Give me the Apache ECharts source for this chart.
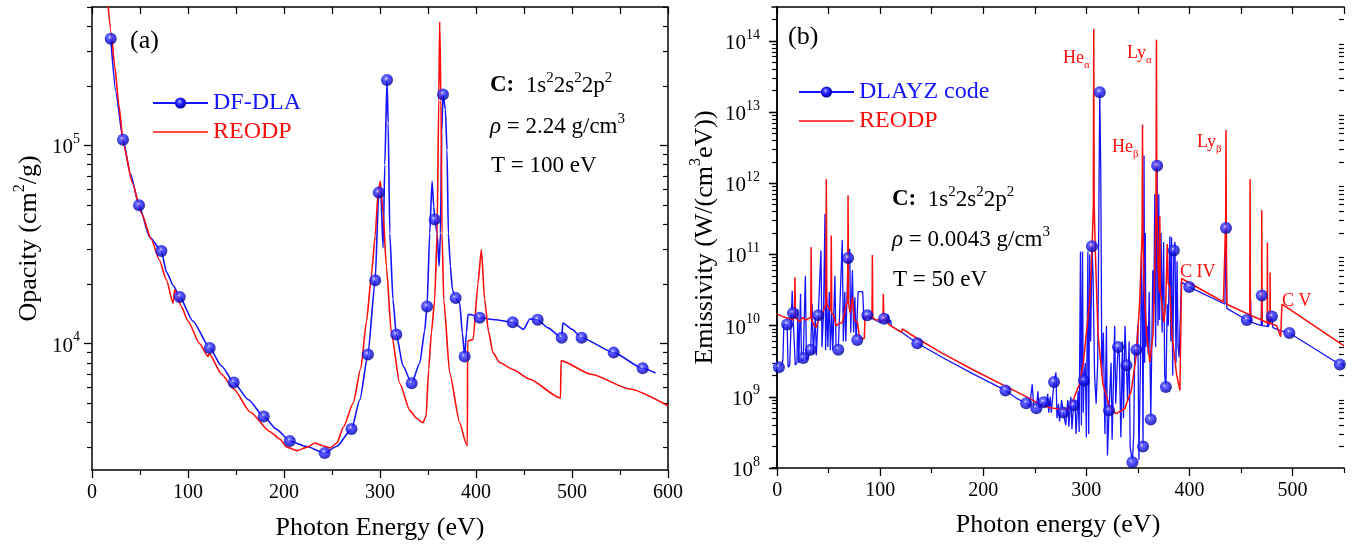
<!DOCTYPE html>
<html>
<head>
<meta charset="utf-8">
<script src="https://cdn.jsdelivr.net/npm/echarts@6/dist/echarts.min.js"></script>
<style>
  html, body { margin: 0; padding: 0; background: #fff; }
  #chart { width: 1352px; height: 548px; }
</style>
</head>
<body>
<div id="chart"></div>
<script>
// ---------- (a) opacity of carbon, rho = 2.24 g/cm3, T = 100 eV ----------
// DF-DLA curve samples (photon energy eV, opacity cm^2/g)
const dlaCurve = [
  [25, 1.85e5], [40, 7.2e4], [60, 3.45e4], [77.5, 2.3e4], [85, 1.95e4], [105, 1.3e4],
  [135, 7.7e3], [163, 5.2e3], [192, 3.7e3], [223, 3.03e3], [255, 3.03e3], [279, 5.2e3],
  [300.7, 5.9e4], [303.2, 3.04e4], [305, 8.0e4], [308.5, 1.3e5], [310.2, 3.6e4], [313.5, 1.67e4],
  [324, 7.7e3], [341.5, 8.0e3], [346.5, 1.16e4], [351.8, 3.6e4], [354.2, 6.6e4], [356, 4.9e4],
  [359.5, 3.6e4], [361.5, 2.46e4], [363, 3.6e4], [364.3, 1.16e5], [368.1, 1.52e5], [369.8, 9.5e4],
  [371.2, 3.6e4], [373.3, 2.46e4], [375.4, 1.87e4], [383, 1.6e4], [385.8, 1.13e4], [390, 1.13e4],
  [391.7, 1.4e4], [395, 1.4e4], [420, 1.32e4], [449.6, 1.18e4], [456, 1.33e4], [475, 1.2e4],
  [490.5, 1.27e4], [500, 1.18e4], [587, 7.1e3]
];
// DF-DLA plotted symbols
const dlaMarks = [
  [19.5, 3.46e5], [32.3, 1.07e5], [49, 4.99e4], [72.3, 2.93e4], [91.4, 1.72e4], [122.6, 9.5e3],
  [147.6, 6.36e3], [178.9, 4.28e3], [206, 3.22e3], [242.4, 2.8e3], [270.3, 3.7e3], [287.4, 8.8e3],
  [295, 2.09e4], [298.7, 5.78e4], [307.3, 2.14e5], [317, 1.11e4], [333, 6.3e3], [349, 1.54e4],
  [357, 4.23e4], [365.6, 1.81e5], [378.8, 1.7e4], [388.2, 8.6e3], [403.8, 1.35e4], [438.2, 1.28e4],
  [464.2, 1.32e4], [489.3, 1.07e4], [510, 1.07e4], [543.4, 9.0e3], [573.6, 7.5e3]
];
// REODP opacity
const reodpOpacity = [
  [16, 5.6e5], [20, 3.7e5], [23.6, 2.53e5], [28, 1.6e5], [33, 1.0e5], [42, 6.5e4], [51.4, 4.56e4],
  [61.9, 3.35e4], [70, 2.65e4], [77.5, 2.1e4], [84.4, 1.6e4], [86.2, 1.87e4], [93, 1.54e4],
  [100, 1.3e4], [112, 1.0e4], [121, 8.6e3], [122, 8.9e3], [135, 7.0e3], [147.6, 5.9e3],
  [165, 4.5e3], [185, 3.6e3], [195.5, 3.3e3], [203, 3.0e3], [214, 2.88e3], [224, 3.0e3],
  [232, 3.15e3], [240, 3.05e3], [248, 2.97e3], [255, 3.15e3], [262, 3.8e3], [272, 5.0e3],
  [280, 7.5e3], [286, 1.3e4], [291, 2.2e4], [295, 3.5e4], [298, 5.8e4], [300.4, 6.6e4],
  [303.2, 4.57e4], [306.6, 2.46e4], [311.8, 1.13e4], [320.5, 6.3e3], [331, 4.6e3], [338, 4.2e3],
  [344.6, 3.98e3], [348, 4.3e3], [350.7, 7.4e3], [353.5, 1.13e4], [357, 1.67e4], [359.5, 3.6e4],
  [361.2, 1.7e5], [362.2, 4.2e5], [363.5, 1.7e5], [364.6, 3.6e4], [366.4, 1.67e4], [372.6, 7.1e3],
  [383, 3.98e3], [390, 3.1e3], [391, 3.05e3], [391.3, 1.03e4], [397, 1.05e4], [402, 2.0e4],
  [405.6, 2.98e4], [409, 1.67e4], [413, 1.15e4], [417.7, 8.97e3], [425, 8.0e3], [438.5, 7.4e3],
  [456, 6.6e3], [487, 5.33e3], [488, 5.3e3], [488.6, 8.2e3], [520, 7.0e3], [560, 5.9e3], [600, 4.85e3]
];

// ---------- (b) emissivity of carbon, rho = 0.0043 g/cm3, T = 50 eV ----------
// DLAYZ spectrum samples (photon energy eV, W/(cm^3 eV))
const dlayzCurve = [
  [4.9, 2.9e9], [5.6, 3.3e9], [6.5, 1.05e10], [10.6, 2.6e9], [12.2, 2.8e9], [14.6, 3.1e10],
  [17.6, 2.8e9], [19.2, 3.0e9], [20.1, 1.7e10], [21.0, 3.0e9], [22.7, 2.8e10], [23.6, 3.2e9],
  [27.4, 5.0e10], [28.4, 3.3e9], [30.2, 3.6e9], [34.0, 2.0e10], [35.0, 4.0e9], [37.0, 1.3e10],
  [38.0, 3.8e9], [42.5, 1.14e11], [43.5, 5.0e9], [45.0, 1.5e10], [46.4, 3.7e11], [47.0, 4.5e9],
  [48.2, 2.5e10], [49.2, 5.0e9], [50.6, 3.0e10], [51.6, 4.5e9], [53.0, 1.5e10], [54.0, 4.5e9],
  [56.0, 5.0e10], [57.2, 4.5e9], [63.2, 1.6e11], [64.2, 6.0e9], [65.6, 3.0e10], [66.6, 6.0e9],
  [70.4, 1.2e11], [71.4, 8.0e9], [73.0, 6.0e10], [74.2, 8.0e9], [75.4, 2.5e10], [76.6, 6.0e9],
  [78.6, 3.0e10], [83.0, 3.0e10], [84.2, 1.2e10], [90, 1.3e10], [95, 1.2e10], [100, 1.1e10],
  [106, 1.15e10], [107.5, 1.4e10], [108.5, 1.05e10], [110, 1.2e10], [111, 9.8e9], [120, 8.2e9],
  [160, 3.6e9], [190, 2.1e9], [232, 9.6e8], [245, 7.3e8], [247.5, 1.5e9], [249, 7.0e8],
  [253, 1.2e9], [254, 7.0e8], [261, 7.5e8], [262.5, 1.1e9], [263.5, 6.0e8], [265, 1.0e9],
  [266, 6.0e8], [270.5, 2.2e9], [271.5, 5.0e8], [273, 8.0e8], [274, 4.5e8], [276, 9.0e8],
  [280, 4.0e8], [282, 9.0e8], [283, 3.8e8], [285, 1.0e9], [286, 3.5e8], [289, 9.0e8],
  [290, 3.0e8], [292, 1.2e9], [293, 3.2e8], [294.3, 1.1e11], [295.2, 4.0e8], [296.3, 1.1e11],
  [297, 6.0e8], [299, 3.0e9], [300, 2.7e8], [301.5, 1.1e11], [302.3, 3.0e8], [303.3, 1.0e11],
  [304.2, 6.0e9], [306.5, 5.0e10], [308, 2.0e9], [309.5, 8.0e8], [311, 3.0e9], [312, 2.0e11],
  [314, 1.5e12], [315, 2.0e9], [316.5, 8.0e9], [318, 3.0e8], [319.5, 1.0e10], [320.5, 1.5e8],
  [324, 3.0e9], [325, 2.5e8], [327.5, 1.0e10], [328.5, 8.0e8], [332, 4.0e9], [333.5, 2.7e8],
  [335, 6.0e9], [336, 5.0e8], [337.5, 1.0e10], [340, 9.0e8], [341.5, 6.0e9], [342.5, 2.0e8],
  [346, 3.0e8], [347, 5.0e9], [350, 1.0e10], [351, 1.3e8], [352.5, 3.0e9], [353.5, 1.0e11],
  [354.3, 1.5e10], [356, 2.45e12], [356.6, 3.0e9], [357.2, 2.0e11], [357.8, 5.0e9], [359, 1.0e10],
  [360, 4.0e9], [361, 3.0e10], [363.5, 5.0e9], [364.5, 6.0e10], [365.5, 2.0e10], [366.4, 7.0e11],
  [367.2, 5.0e9], [369.5, 1.0e10], [370.3, 7.0e11], [371, 1.2e10], [372.5, 2.0e11], [373.5, 8.0e9],
  [375, 1.5e11], [376, 2.0e9], [378.5, 2.0e10], [379.5, 1.0e10], [381, 1.8e11], [382, 6.0e9],
  [382.7, 1.75e11], [383.8, 2.0e9], [386, 1.5e11], [387, 3.0e9], [388, 8.0e10], [389, 5.0e9],
  [390, 3.6e9], [391.6, 3.6e9], [392.2, 4.1e10], [434.5, 2.0e10], [435, 1.1e11], [436.3, 1.75e10],
  [459, 1.15e10], [459.4, 2.3e10], [459.8, 1.12e10], [469.6, 1.0e10], [470.8, 1.0e10],
  [475.7, 9.8e9], [476, 1.6e10], [476.4, 9.6e9], [481, 9.4e9], [488, 8.5e9], [550, 2.75e9]
];
// DLAYZ plotted symbols
const dlayzMarks = [
  [1.7, 2.6e9], [9.7, 1.04e10], [15.3, 1.5e10], [25.3, 3.5e9], [32.5, 4.6e9], [39.9, 1.4e10],
  [59.3, 4.6e9], [68.8, 8.9e10], [77.8, 6.3e9], [87.5, 1.4e10], [103.8, 1.25e10], [136, 5.65e9],
  [221.5, 1.23e9], [241.6, 8.1e8], [251.5, 6.9e8], [258.6, 8.4e8], [268.7, 1.62e9], [277.6, 6.0e8],
  [287.6, 7.6e8], [297.7, 1.7e9], [305.5, 1.31e11], [313, 1.9e13], [322, 6.45e8], [330.7, 5.0e9],
  [338.9, 2.78e9], [344.7, 1.2e8], [348.6, 4.6e9], [355, 2.0e8], [362.5, 4.8e8], [368.7, 1.76e12],
  [377.2, 1.37e9], [384.9, 1.14e11], [399.8, 3.5e10], [435.5, 2.35e11], [455.7, 1.2e10],
  [470.2, 2.65e10], [480, 1.34e10], [497, 7.9e9], [546, 2.85e9]
];
// REODP emissivity
const reodpEmissivity = [
  [0, 1.45e10], [5, 1.35e10], [8, 1.3e10], [12, 1.25e10], [15, 1.2e10], [16.8, 1.3e10],
  [17.3, 4.8e10], [17.8, 1.3e10], [20, 1.2e10], [22, 1.15e10], [25, 1.3e10], [28, 1.2e10],
  [30, 1.25e10], [32.6, 1.3e10], [33, 1.27e11], [33.5, 1.2e10], [36, 1.0e10], [38, 9.5e9],
  [40, 1.2e10], [42, 1.3e10], [44, 1.5e10], [47.2, 2.0e10], [47.7, 1.15e12], [48.2, 2.0e10],
  [50, 1.8e10], [52.1, 1.6e10], [52.5, 1.85e11], [53, 1.5e10], [55, 1.4e10], [57, 1.0e10],
  [60, 1.07e10], [63, 1.1e10], [65, 1.4e10], [67, 2.0e10], [68.4, 2.2e10], [68.8, 6.8e11],
  [69.3, 2.0e10], [71, 1.5e10], [73, 2.5e10], [75, 1.2e10], [78, 1.1e10], [80, 6.6e9],
  [84.6, 6.6e9], [85.2, 1.3e10], [88, 1.35e10], [92, 1.3e10], [92.4, 9.8e10], [92.8, 1.3e10],
  [96, 1.2e10], [100, 1.2e10], [102.6, 1.15e10], [103, 2.8e10], [103.5, 1.15e10], [106, 1.3e10],
  [108, 1.05e10], [115, 9.0e9], [120.5, 8.1e9], [121.5, 9.0e9], [136, 6.6e9], [160, 4.1e9],
  [190, 2.4e9], [220, 1.45e9], [245, 9.5e8], [255, 7.8e8], [265, 7.0e8], [275, 6.7e8],
  [282, 6.8e8], [287, 8.9e8], [290.5, 1.2e9], [293.5, 1.53e9], [297, 3.0e9], [300, 7.7e9],
  [303.2, 2.2e10], [305.5, 1.14e11], [306.8, 5.0e11], [307.2, 1.47e14], [307.6, 5.0e11],
  [308.7, 1.1e11], [311.3, 7.7e9], [316, 1.53e9], [322.6, 7.2e8], [329, 5.8e8], [337.2, 6.8e8],
  [343.7, 1.23e9], [348.6, 4.0e9], [351.8, 2.25e10], [354.1, 2.0e11], [354.5, 6.7e12],
  [354.9, 2.0e11], [355.9, 3.9e10], [358.4, 7.7e9], [361.6, 3.1e9], [364.8, 7.7e9],
  [366.4, 6.6e10], [367.6, 4.0e11], [368, 1.04e14], [368.4, 4.0e11], [369.7, 6.6e10],
  [370.8, 3.0e10], [371.3, 3.5e11], [371.8, 3.0e10], [373, 2.25e10], [375.2, 1.12e10],
  [377, 2.0e10], [378.5, 1.4e11], [379.4, 3.9e10], [381, 3.5e10], [383, 7.7e9], [387.5, 2.1e9],
  [390.8, 1.23e9], [391.9, 1.2e9], [392.4, 4.6e10], [433, 2.15e10], [435.2, 3.0e11],
  [435.5, 5.6e12], [435.8, 3.0e11], [436.3, 2.0e10], [458.6, 1.42e10], [458.9, 1.15e12],
  [459.2, 1.4e10], [470, 1.2e10], [470.2, 4.2e11], [470.5, 1.19e10], [475.5, 1.1e10],
  [475.7, 1.47e11], [475.9, 1.1e10], [478.1, 1.08e10], [478.3, 5.6e10], [478.5, 1.07e10],
  [484.8, 1.0e10], [488.5, 7.0e9], [489.6, 6.9e9], [489.8, 2.0e10], [550, 5.2e9]
];

// axis tick values
const energyTicksA = [0, 100, 200, 300, 400, 500, 600];
const energyTicksB = [0, 100, 200, 300, 400, 500];
const energyMinorB = [50, 150, 250, 350, 450, 550];
const energyTopB = [0, 50, 100, 150, 200, 250, 300, 350, 400, 450, 500, 550];
const opacityTicks = [1e4, 1e5];
const emissivityTicks = [1e8, 1e9, 1e10, 1e11, 1e12, 1e13, 1e14];

const FONT = 'Liberation Serif';
const BLUE = '#1414ff';
const RED = '#ff0d0d';
const BLACK = '#000';

// minor log ticks 2..9 x 10^n that fall inside [lo, hi]
function minorLogTicks(lo, hi) {
  const out = [];
  for (let e = Math.floor(Math.log10(lo)); e <= Math.ceil(Math.log10(hi)); e++) {
    for (let m = 2; m <= 9; m++) {
      const v = m * Math.pow(10, e);
      if (v >= lo && v <= hi) out.push(v);
    }
  }
  return out;
}

function byEnergy(curve, marks) {
  return curve.concat(marks).sort((a, b) => a[0] - b[0]);
}

function sphere() {
  return {
    type: 'radial', x: 0.42, y: 0.38, r: 0.62,
    colorStops: [
      { offset: 0, color: '#e8e8ff' },
      { offset: 0.22, color: '#5050ff' },
      { offset: 0.6, color: '#1010ee' },
      { offset: 1, color: '#000088' }
    ]
  };
}

const powRich = {
  b: { fontFamily: FONT, fontSize: 21, lineHeight: 26, verticalAlign: 'bottom', color: BLACK },
  s: { fontFamily: FONT, fontSize: 14, lineHeight: 14, verticalAlign: 'top', color: BLACK }
};
function powLabel(v) {
  return '{b|10}{s|' + Math.round(Math.log10(v)) + '}';
}

const axisLine = { show: true, lineStyle: { color: BLACK, width: 1.5 } };
const noLine = { show: false };

// log y axes: main (labels + long ticks), minor overlay, and mirrored right pair
function logAxes(grid, min, max, ticks, name, nameGap) {
  const minor = minorLogTicks(min, max);
  const base = { type: 'log', logBase: 10, gridIndex: grid, min: min, max: max, splitLine: { show: false } };
  return [
    Object.assign({}, base, {
      position: 'left', axisLine: axisLine,
      axisTick: { customValues: ticks, length: 8, lineStyle: { color: BLACK, width: 1.3 } },
      axisLabel: { customValues: ticks, formatter: powLabel, rich: powRich, margin: 12 },
      name: name, nameLocation: 'middle', nameGap: nameGap, nameRotate: 90,
      nameTextStyle: {
        rich: {
          n: { fontFamily: FONT, fontSize: 26, lineHeight: 30, verticalAlign: 'bottom', color: BLACK },
          s: { fontFamily: FONT, fontSize: 16, lineHeight: 16, verticalAlign: 'top', color: BLACK }
        }
      }
    }),
    Object.assign({}, base, {
      position: 'left', axisLine: noLine, axisLabel: { show: false },
      axisTick: { customValues: minor, length: 5, lineStyle: { color: BLACK, width: 1.2 } }
    }),
    Object.assign({}, base, {
      position: 'right', axisLine: axisLine, axisLabel: { show: false },
      axisTick: { customValues: ticks, inside: true, length: 8, lineStyle: { color: BLACK, width: 1.3 } }
    }),
    Object.assign({}, base, {
      position: 'right', axisLine: noLine, axisLabel: { show: false },
      axisTick: { customValues: minor, inside: true, length: 5, lineStyle: { color: BLACK, width: 1.2 } }
    })
  ];
}

const xName = { fontFamily: FONT, fontSize: 26, color: BLACK };
const xLabel = { fontFamily: FONT, fontSize: 20, color: BLACK, margin: 13 };

const xAxes = [
  // (a) bottom
  { type: 'value', gridIndex: 0, position: 'bottom', min: 0, max: 600, interval: 100,
    axisLine: axisLine, splitLine: { show: false },
    axisTick: { length: 8, lineStyle: { color: BLACK, width: 1.3 } },
    minorTick: { show: true, splitNumber: 2, length: 5, lineStyle: { color: BLACK, width: 1.2 } },
    axisLabel: Object.assign({ customValues: energyTicksA }, xLabel),
    name: 'Photon Energy (eV)', nameLocation: 'middle', nameGap: 45, nameTextStyle: xName },
  // (a) top
  { type: 'value', gridIndex: 0, position: 'top', min: 0, max: 600, interval: 50,
    axisLine: axisLine, splitLine: { show: false }, axisLabel: { show: false },
    axisTick: { inside: true, length: 7, lineStyle: { color: BLACK, width: 1.2 } } },
  // (b) bottom
  { type: 'value', gridIndex: 1, position: 'bottom', min: -5, max: 550,
    axisLine: axisLine, splitLine: { show: false },
    axisTick: { customValues: energyTicksB, length: 8, lineStyle: { color: BLACK, width: 1.3 } },
    axisLabel: Object.assign({ customValues: energyTicksB }, xLabel),
    name: 'Photon energy (eV)', nameLocation: 'middle', nameGap: 44, nameTextStyle: xName },
  // (b) bottom minor ticks
  { type: 'value', gridIndex: 1, position: 'bottom', min: -5, max: 550,
    axisLine: noLine, splitLine: { show: false }, axisLabel: { show: false },
    axisTick: { customValues: energyMinorB, length: 5, lineStyle: { color: BLACK, width: 1.2 } } },
  // (b) top
  { type: 'value', gridIndex: 1, position: 'top', min: -5, max: 550,
    axisLine: axisLine, splitLine: { show: false }, axisLabel: { show: false },
    axisTick: { customValues: energyTopB, inside: true, length: 7, lineStyle: { color: BLACK, width: 1.2 } } }
];

const yAxes = [].concat(
  logAxes(0, 2300, 5e5, opacityTicks, '{n|Opacity (cm}{s|2}{n|/g)}', 50),
  logAxes(1, 1e8, 3e14, emissivityTicks, '{n|Emissivity (W/(cm}{s|3}{n|eV))}', 54)
);

const lineBase = { type: 'line', showSymbol: false, animation: false, silent: true, clip: true };
// opacity curves are smooth; emission spectra keep their sharp lines
const smoothCurve = { smooth: 0.2, smoothMonotone: 'x' };

const series = [
  Object.assign({}, lineBase, smoothCurve, {
    name: 'DF-DLA', xAxisIndex: 0, yAxisIndex: 0, data: byEnergy(dlaCurve, dlaMarks),
    symbol: 'circle', symbolSize: 12, itemStyle: { color: sphere() },
    lineStyle: { color: BLUE, width: 1.6 }, z: 2
  }),
  Object.assign({}, lineBase, smoothCurve, {
    name: 'REODP', xAxisIndex: 0, yAxisIndex: 0, data: reodpOpacity,
    symbol: 'none', itemStyle: { color: RED }, lineStyle: { color: RED, width: 1.6 }, z: 3
  }),
  { type: 'scatter', xAxisIndex: 0, yAxisIndex: 0, data: dlaMarks, symbolSize: 12,
    itemStyle: { color: sphere() }, silent: true, z: 4 },

  Object.assign({}, lineBase, {
    name: 'DLAYZ code', xAxisIndex: 2, yAxisIndex: 4, data: byEnergy(dlayzCurve, dlayzMarks),
    symbol: 'circle', symbolSize: 12, itemStyle: { color: sphere() },
    lineStyle: { color: BLUE, width: 1.3 }, z: 2
  }),
  Object.assign({}, lineBase, {
    name: 'REODP', xAxisIndex: 2, yAxisIndex: 4, data: reodpEmissivity,
    symbol: 'none', itemStyle: { color: RED }, lineStyle: { color: RED, width: 1.5 }, z: 3
  }),
  { type: 'scatter', xAxisIndex: 2, yAxisIndex: 4, data: dlayzMarks, symbolSize: 12,
    itemStyle: { color: sphere() }, silent: true, z: 4 }
];

const redLegendIcon = 'path://M0,0H55V1.6H0Z';
function legendFor(left, top, blueName) {
  return {
    left: left, top: top, orient: 'vertical', padding: 0, itemGap: 5,
    itemWidth: 55, itemHeight: 14, selectedMode: false,
    textStyle: { fontFamily: FONT, fontSize: 24, lineHeight: 24 },
    data: [
      { name: blueName, textStyle: { color: BLUE } },
      { name: 'REODP', icon: redLegendIcon, textStyle: { color: RED } }
    ]
  };
}

const infoRich = {
  b: { fontFamily: FONT, fontSize: 23, fontWeight: 'bold', lineHeight: 26, verticalAlign: 'bottom', fill: BLACK },
  n: { fontFamily: FONT, fontSize: 23, lineHeight: 26, verticalAlign: 'bottom', fill: BLACK },
  i: { fontFamily: FONT, fontSize: 23, fontStyle: 'italic', lineHeight: 26, verticalAlign: 'bottom', fill: BLACK },
  s: { fontFamily: FONT, fontSize: 15, lineHeight: 14, verticalAlign: 'top', fill: BLACK }
};
const lineRich = {
  n: { fontFamily: FONT, fontSize: 18, lineHeight: 22, verticalAlign: 'top', fill: RED },
  d: { fontFamily: FONT, fontSize: 11, lineHeight: 11, verticalAlign: 'bottom', fill: RED }
};

function txt(x, y, text, rich) {
  return { type: 'text', x: x, y: y, silent: true, z: 10,
           style: { text: text, rich: rich, fill: BLACK, verticalAlign: 'middle', align: 'left' } };
}
function plain(x, y, text, size, color) {
  return { type: 'text', x: x, y: y, silent: true, z: 10,
           style: { text: text, fontFamily: FONT, fontSize: size, fill: color || BLACK,
                    verticalAlign: 'middle', align: 'left' } };
}

const graphic = [
  plain(130, 41, '(a)', 26),
  txt(490, 84, '{b|C:}{n|  1s}{s|2}{n|2s}{s|2}{n|2p}{s|2}', infoRich),
  txt(490, 125, '{i|\u03c1}{n| = 2.24 g/cm}{s|3}', infoRich),
  txt(491, 164, '{n|T = 100 eV}', infoRich),

  plain(788, 37, '(b)', 26),
  txt(892, 198, '{b|C:}{n|  1s}{s|2}{n|2s}{s|2}{n|2p}{s|2}', infoRich),
  txt(892, 238, '{i|\u03c1}{n| = 0.0043 g/cm}{s|3}', infoRich),
  txt(893, 278, '{n|T = 50 eV}', infoRich),

  txt(1063, 60, '{n|He}{d|\u03b1}', lineRich),
  txt(1127, 55, '{n|Ly}{d|\u03b1}', lineRich),
  txt(1112, 149, '{n|He}{d|\u03b2}', lineRich),
  txt(1197, 144, '{n|Ly}{d|\u03b2}', lineRich),
  plain(1180, 272, 'C IV', 18, RED),
  plain(1282, 301, 'C V', 18, RED)
];

const chart = echarts.init(document.getElementById('chart'), null, { renderer: 'canvas' });
chart.setOption({
  animation: false,
  backgroundColor: '#fff',
  textStyle: { fontFamily: FONT },
  grid: [
    { left: 92, right: 684, top: 7, bottom: 78, outerBoundsMode: 'none' },
    { left: 772, right: 8, top: 7, bottom: 80, outerBoundsMode: 'none' }
  ],
  legend: [legendFor(152, 91, 'DF-DLA'), legendFor(798, 80, 'DLAYZ code')],
  xAxis: xAxes,
  yAxis: yAxes,
  series: series,
  graphic: graphic
});
</script>
</body>
</html>
